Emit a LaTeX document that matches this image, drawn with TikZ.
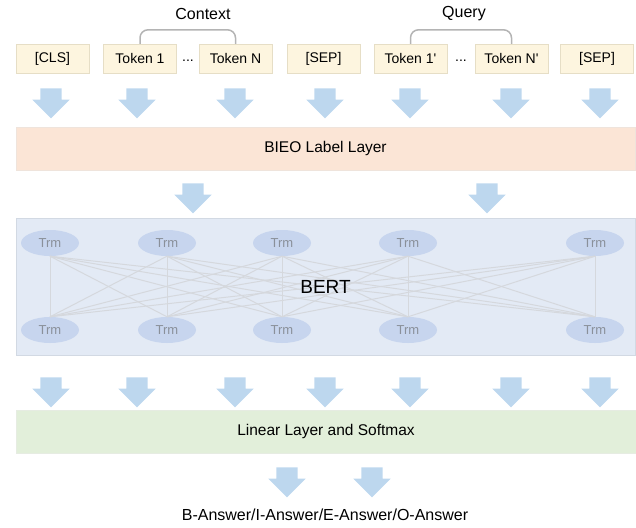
\documentclass[tikz,border=0pt]{standalone}
\usepackage{fontspec}
\setmainfont{Liberation Sans}
\usepackage{xcolor}
\usetikzlibrary{shapes.geometric,shapes.arrows}

\definecolor{tokfill}{HTML}{FDF5DF}
\definecolor{tokdraw}{HTML}{E6DEC6}
\definecolor{arrowblue}{HTML}{BDD7EE}
\definecolor{bieofill}{HTML}{FBE5D6}
\definecolor{bieodraw}{HTML}{EFE4DC}
\definecolor{bertfill}{HTML}{E3EAF5}
\definecolor{bertdraw}{HTML}{D2D9E3}
\definecolor{trmfill}{HTML}{C7D5EE}
\definecolor{trmtext}{HTML}{8A909A}
\definecolor{linkgray}{HTML}{D5D8DD}
\definecolor{linearfill}{HTML}{E2EFDA}
\definecolor{lineardraw}{HTML}{E6ECE2}
\definecolor{bracketgray}{HTML}{B4B4B4}

\tikzset{
    tok/.style={draw=tokdraw, fill=tokfill, minimum width=73pt, minimum height=29pt,
        inner sep=0pt, font=\fontsize{14}{16}\selectfont},
    blockarrow/.style={single arrow, rotate=-90, fill=arrowblue, draw=none,
        minimum height=30pt, minimum width=37pt, inner xsep=0pt, inner ysep=10.5pt,
        single arrow head extend=8pt, single arrow head indent=0pt},
    layer/.style={minimum width=619pt, minimum height=43pt, inner sep=0pt,
        font=\fontsize{15.5}{18}\selectfont},
    trm/.style={ellipse, fill=trmfill, minimum width=58pt, minimum height=26pt,
        inner sep=0pt, text=trmtext, font=\fontsize{13}{15}\selectfont},
    link/.style={draw=linkgray, line width=1pt},
    bracket/.style={draw=bracketgray, line width=1.5pt, rounded corners=8pt},
    caption/.style={font=\fontsize{16}{18}\selectfont}
}

\begin{document}
\begin{tikzpicture}[x=1pt,y=-1pt]
    \useasboundingbox (0,0) rectangle (636,527);

    \node[tok] (cls) at (52.5,58.5) {[CLS]};
    \node[tok] (ctxa) at (140,58.5) {Token 1};
    \node (ctxdots) at (188,61) {\fontsize{14}{16}\selectfont...};
    \node[tok] (ctxn) at (235.5,58.5) {Token N};
    \node[tok] (sepa) at (323.5,58.5) {[SEP]};
    \node[tok] (qrya) at (410.5,58.5) {Token 1\textquotesingle};
    \node (qrydots) at (461,61) {\fontsize{14}{16}\selectfont...};
    \node[tok] (qryn) at (511.5,58.5) {Token N\textquotesingle};
    \node[tok] (sepb) at (597,58.5) {[SEP]};

    \node[caption] (context) at (203,14) {Context};
    \node[caption] (query) at (464,14) {Query};
    \draw[bracket] (ctxa.north) -- ++(0,-14) -| (ctxn.north);
    \draw[bracket] (qrya.north) -- ++(0,-14) -| (qryn.north);

    \foreach \x [count=\i] in {51,137,235,325,410,511,600}
        \node[blockarrow] (ina\i) at (\x,98) {};

    \node[layer, draw=bieodraw, fill=bieofill] (bieo) at (325.5,148.5) {BIEO Label Layer};

    \node[blockarrow] (mida1) at (193,193) {};
    \node[blockarrow] (mida2) at (487,193) {};

    \node[layer, draw=bertdraw, fill=bertfill, minimum height=137pt] (bert) at (325.5,286.5) {};
    \foreach \x [count=\i] in {50,167,282,408,595} {
        \node[trm] (trmt\i) at (\x,243) {Trm};
        \node[trm] (trmb\i) at (\x,330) {Trm};
    }
    \foreach \i in {1,...,5}
        \foreach \j in {1,...,5}
            \draw[link] (trmt\i.south) -- (trmb\j.north);
    \node[font=\fontsize{19}{22}\selectfont] (bertlabel) at (bert.center) {BERT};

    \foreach \x [count=\i] in {51,137,235,325,410,511,600}
        \node[blockarrow] (outa\i) at (\x,387) {};

    \node[layer, draw=lineardraw, fill=linearfill, minimum width=620pt] (linear) at (326,431.5) {Linear Layer and Softmax};

    \node[blockarrow] (enda1) at (287,477) {};
    \node[blockarrow] (enda2) at (372,477) {};

    \node[caption] (answer) at (325,515) {B-Answer/I-Answer/E-Answer/O-Answer};
\end{tikzpicture}
\end{document}
